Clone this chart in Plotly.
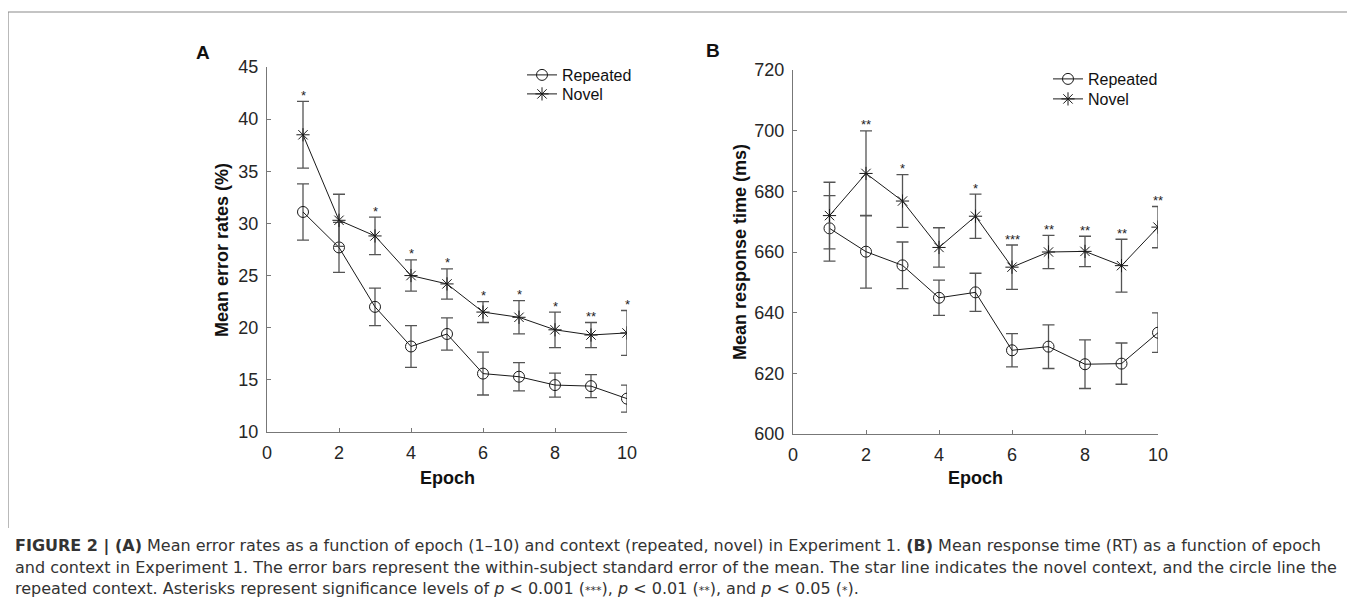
import plotly.graph_objects as go

# The page body adds an 8px margin; the figure is sized and positioned accordingly.
OFF = 8
W, H = 1355 - OFF, 612 - OFF

epochs = [1, 2, 3, 4, 5, 6, 7, 8, 9, 10]

# Panel A: mean error rates (%)
err_rep_mean = [31.1, 27.7, 22.0, 18.2, 19.4, 15.6, 15.3, 14.5, 14.4, 13.2]
err_rep_se = [2.7, 2.4, 1.8, 2.0, 1.55, 2.05, 1.35, 1.15, 1.1, 1.3]
err_nov_mean = [38.5, 30.3, 28.8, 25.0, 24.2, 21.5, 21.0, 19.8, 19.3, 19.5]
err_nov_se = [3.2, 2.5, 1.8, 1.5, 1.45, 1.0, 1.6, 1.7, 1.2, 2.15]
err_sig = ["*", "", "*", "*", "*", "*", "*", "*", "**", "*"]

# Panel B: mean response time (ms)
rt_rep_mean = [667.8, 660.1, 655.6, 644.9, 646.7, 627.6, 628.8, 623.0, 623.2, 633.4]
rt_rep_se = [10.8, 12.0, 7.7, 5.8, 6.3, 5.5, 7.2, 8.0, 6.8, 6.5]
rt_nov_mean = [672.0, 685.9, 676.8, 661.5, 671.8, 655.0, 660.0, 660.2, 655.5, 668.2]
rt_nov_se = [11.0, 14.0, 8.7, 6.5, 7.3, 7.3, 5.5, 5.0, 8.7, 6.8]
rt_sig = ["", "**", "*", "", "*", "***", "**", "**", "**", "**"]

x_ticks = [0, 2, 4, 6, 8, 10]
yA_ticks = [10, 15, 20, 25, 30, 35, 40, 45]
yB_ticks = [600, 620, 640, 660, 680, 700, 720]

FONT = "Liberation Sans, Arial, sans-serif"
CAP_FONT = "DejaVu Sans, sans-serif"
AX = "#262626"


def px(x):
    return (x - OFF) / W


def py(y):
    return 1 - (y - OFF) / H


fig = go.Figure()


def add_series(xa, ya, mean, se, name, symbol, legend):
    fig.add_trace(go.Scatter(
        x=epochs, y=mean, name=name, mode="lines+markers",
        xaxis=xa, yaxis=ya, legend=legend,
        line=dict(color="#1a1a1a", width=1),
        marker=dict(symbol=symbol, size=11, color="#1a1a1a",
                    line=dict(color="#1a1a1a", width=1)),
        error_y=dict(type="data", array=se, visible=True,
                     color="#555555", thickness=1.3, width=6),
    ))


add_series("x", "y", err_rep_mean, err_rep_se, "Repeated", "circle-open", "legend")
add_series("x", "y", err_nov_mean, err_nov_se, "Novel", "asterisk-open", "legend2")
add_series("x2", "y2", rt_rep_mean, rt_rep_se, "Repeated", "circle-open", "legend3")
add_series("x2", "y2", rt_nov_mean, rt_nov_se, "Novel", "asterisk-open", "legend4")

annotations = []
for e, m, s, t in zip(epochs, err_nov_mean, err_nov_se, err_sig):
    if t:
        annotations.append(dict(x=e, y=m + s, xref="x", yref="y", text=t,
                                showarrow=False, yshift=6, xanchor="center",
                                font=dict(family=FONT, size=13, color="#222")))
for e, m, s, t in zip(epochs, rt_nov_mean, rt_nov_se, rt_sig):
    if t:
        annotations.append(dict(x=e, y=m + s, xref="x2", yref="y2", text=t,
                                showarrow=False, yshift=6, xanchor="center",
                                font=dict(family=FONT, size=13, color="#222")))


def label(xp, yp, text, size, angle=0):
    return dict(x=px(xp), y=py(yp), xref="paper", yref="paper", text=text,
                textangle=angle, showarrow=False, xanchor="center", yanchor="middle",
                font=dict(family=FONT, size=size, color="#111"))


# panel labels
annotations.append(label(203, 52, "<b>A</b>", 19))
annotations.append(label(713, 50, "<b>B</b>", 19))

# axis titles
annotations.append(label(222, 250, "<b>Mean error rates (%)</b>", 18, -90))
annotations.append(label(740, 252, "<b>Mean response time (ms)</b>", 18, -90))
annotations.append(label(447, 478, "<b>Epoch</b>", 18))
annotations.append(label(975, 478, "<b>Epoch</b>", 18))

SM = '<span style="font-size:11px">'
caption = [
    "<b>FIGURE 2 | (A)</b> Mean error rates as a function of epoch (1–10) and context (repeated, novel) in Experiment 1. "
    "<b>(B)</b> Mean response time (RT) as a function of epoch",
    "and context in Experiment 1. The error bars represent the within-subject standard error of the mean. "
    "The star line indicates the novel context, and the circle line the",
    "repeated context. Asterisks represent significance levels of <i>p</i> &lt; 0.001 (" + SM + "***</span>), "
    "<i>p</i> &lt; 0.01 (" + SM + "**</span>), and <i>p</i> &lt; 0.05 (" + SM + "*</span>).",
]
for i, line in enumerate(caption):
    annotations.append(dict(x=px(13), y=py(546 + 21 * i), xref="paper", yref="paper",
                            text=line, showarrow=False, xanchor="left", yanchor="middle",
                            font=dict(family=CAP_FONT, size=16, color="#333")))

shapes = [dict(type="path", xref="paper", yref="paper",
               path=f"M {px(8)},{py(528)} L {px(8)},{py(12)} L {px(1352)},{py(12)} L {px(1352)},{py(528)}",
               line=dict(color="#8a8a8a", width=1.2))]

axis_common = dict(showgrid=False, zeroline=False, showline=True, linecolor="#777777",
                   linewidth=1.3, ticks="inside", ticklen=4, tickcolor="#777777",
                   tickfont=dict(family=FONT, size=18, color=AX), mirror=False,
                   automargin=False)


def leg(xp, yp):
    return dict(x=px(xp), y=py(yp), xanchor="left", yanchor="middle",
                bgcolor="rgba(0,0,0,0)", font=dict(family=FONT, size=16, color="#111"),
                tracegroupgap=0, itemwidth=30)


fig.update_layout(
    width=W, height=H, margin=dict(l=0, r=0, t=0, b=0, pad=0, autoexpand=False),
    paper_bgcolor="white", plot_bgcolor="white",
    xaxis=dict(domain=[px(267), px(627)], range=[0, 10], tickvals=x_ticks, anchor="y",
               ticklabelstandoff=4, **axis_common),
    yaxis=dict(domain=[py(432), py(67)], range=[10, 45], tickvals=yA_ticks, anchor="x",
               ticklabelstandoff=4, **axis_common),
    xaxis2=dict(domain=[px(793), px(1158)], range=[0, 10], tickvals=x_ticks, anchor="y2",
                ticklabelstandoff=4, **axis_common),
    yaxis2=dict(domain=[py(434), py(70)], range=[600, 720], tickvals=yB_ticks, anchor="x2",
                ticklabelstandoff=4, **axis_common),
    legend=leg(522, 75),
    legend2=leg(522, 94),
    legend3=leg(1048, 79),
    legend4=leg(1048, 99),
    annotations=annotations,
    shapes=shapes,
    showlegend=True,
)

fig.write_html("out.html")
